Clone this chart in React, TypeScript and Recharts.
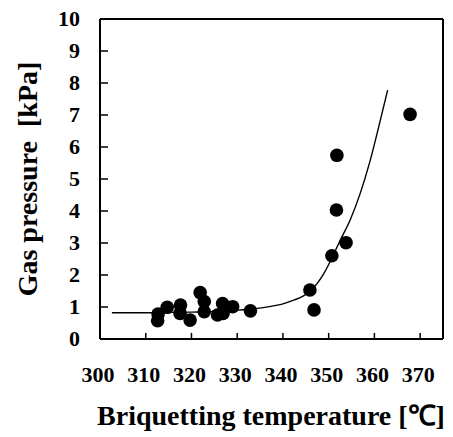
import { ComposedChart, Scatter, Line, XAxis, YAxis, ReferenceLine } from 'recharts';

// measured points (briquetting temperature °C, gas pressure kPa)
const temps = [312.7, 312.6, 314.7, 317.6, 317.5, 319.7, 321.9, 322.8, 322.8, 325.7, 326.8, 326.9, 329, 332.9, 345.9, 346.8, 350.7, 353.8, 351.7, 351.8, 367.8];
const pressures = [0.78, 0.57, 0.99, 1.06, 0.8, 0.59, 1.45, 1.17, 0.85, 0.75, 1.11, 0.8, 1.01, 0.88, 1.53, 0.91, 2.6, 3.01, 4.03, 5.74, 7.02];

// fitted curve
const fitTemps = [302.6, 310, 315, 320, 325, 330, 334, 337, 340, 342.5, 344.5, 346, 347.5, 349, 350.5, 352.5, 354.7, 356.9, 359.1, 361.3, 362.9];
const fitPressures = [0.82, 0.82, 0.83, 0.84, 0.86, 0.9, 0.95, 1.01, 1.1, 1.22, 1.35, 1.5, 1.74, 2.06, 2.47, 3.08, 3.72, 4.55, 5.59, 6.84, 7.78];

const xTicks = [300, 310, 320, 330, 340, 350, 360, 370];
const yTicks = [0, 1, 2, 3, 4, 5, 6, 7, 8, 9, 10];

const points = temps.map((x, i) => ({ x, y: pressures[i] }));
const fit = fitTemps.map((x, i) => ({ x, y: fitPressures[i] }));

const xMin = 300;
const xMax = 375;
const yMin = 0;
const yMax = 10;
// inward tick mark lengths, in axis units (about 8px and 6px)
const yTickLen = 1.75;
const xTickLen = 0.19;

const font = '"Liberation Serif", "Times New Roman", serif';

function XTick(props: any) {
  const { x, y, payload } = props;
  return (
    <text x={x - 2} y={y} dy={15} textAnchor="middle" fontFamily={font} fontWeight={700} fontSize={22} fill="#000">
      {payload.value}
    </text>
  );
}

function YTick(props: any) {
  const { x, y, payload } = props;
  return (
    <text x={x} y={y} dy={7} textAnchor="end" fontFamily={font} fontWeight={700} fontSize={22} fill="#000">
      {payload.value}
    </text>
  );
}

export default function App() {
  return (
    <div style={{ position: 'absolute', left: 0, top: 0, background: '#fff' }}>
      <ComposedChart width={453} height={437} margin={{ top: 19, right: 10, left: 0, bottom: 0 }}>
        <XAxis
          type="number"
          dataKey="x"
          domain={[xMin, xMax]}
          ticks={xTicks}
          allowDataOverflow
          height={98}
          tickSize={0}
          tickMargin={28}
          tick={<XTick />}
          axisLine={{ stroke: '#000', strokeWidth: 2 }}
          tickLine={false}
          label={{
            content: () => (
              <text x={271} y={425} textAnchor="middle" fontFamily={font} fontWeight={700} fontSize={28} fill="#000">
                Briquetting temperature [℃]
              </text>
            ),
          }}
        />
        <YAxis
          type="number"
          dataKey="y"
          domain={[yMin, yMax]}
          ticks={yTicks}
          width={100}
          tickSize={0}
          tickMargin={20}
          tick={<YTick />}
          axisLine={{ stroke: '#000', strokeWidth: 2 }}
          tickLine={false}
          label={{
            content: () => (
              <text
                x={37}
                y={179}
                textAnchor="middle"
                transform="rotate(-90 37 179)"
                fontFamily={font}
                fontWeight={700}
                fontSize={28}
                fill="#000"
                style={{ whiteSpace: 'pre' }}
              >
                {'Gas pressure  [kPa]'}
              </text>
            ),
          }}
        />
        <ReferenceLine y={yMax} stroke="#000" strokeWidth={2} />
        <ReferenceLine x={xMax} stroke="#000" strokeWidth={2} />
        {xTicks.slice(1).map((t) => (
          <ReferenceLine
            key={'xt' + t}
            segment={[{ x: t, y: yMin }, { x: t, y: yMin + xTickLen }]}
            stroke="#000"
            strokeWidth={1.5}
          />
        ))}
        {yTicks.slice(1, -1).map((t) => (
          <ReferenceLine
            key={'yt' + t}
            segment={[{ x: xMin, y: t }, { x: xMin + yTickLen, y: t }]}
            stroke="#000"
            strokeWidth={1.5}
          />
        ))}
        <Line
          data={fit}
          dataKey="y"
          type="monotone"
          stroke="#000"
          strokeWidth={1.4}
          dot={false}
          activeDot={false}
          isAnimationActive={false}
        />
        <Scatter
          data={points}
          dataKey="y"
          fill="#000"
          isAnimationActive={false}
          shape={(p: any) => <circle cx={p.cx} cy={p.cy} r={6.8} fill="#000" />}
        />
      </ComposedChart>
    </div>
  );
}
